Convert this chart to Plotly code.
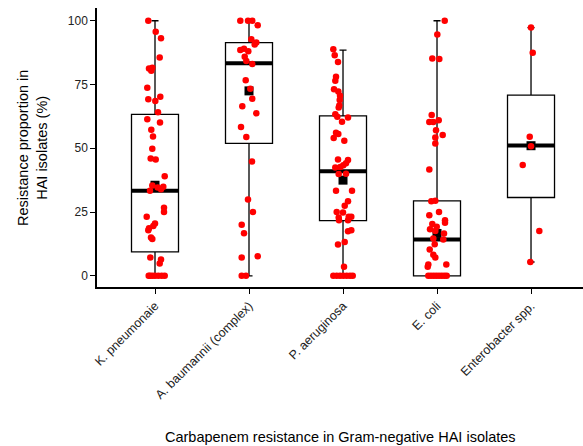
import plotly.graph_objects as go

categories = ["K. pneumonaie", "A. baumannii (complex)", "P. aeruginosa", "E. coli", "Enterobacter spp."]

# box statistics
q1 = [9.4, 51.9, 21.6, 0.0, 30.7]
median = [33.3, 83.3, 41.0, 14.2, 51.1]
q3 = [63.3, 91.4, 62.7, 29.4, 70.8]
lower = [0.0, 0.0, 0.0, 0.0, 5.4]
upper = [100.0, 100.0, 88.5, 100.0, 97.3]
means = [35.5, 72.5, 37.5, 16.6, 51.0]

# individual isolates (value, jitter offset in category units)
k_vals = [100, 95.7, 93.1, 85.6, 81.3, 81.6, 80.4, 73.7, 70.2, 69.2, 68.5, 64.1, 61.4, 60.1, 57.3,
          54.6, 49.8, 46, 45.6, 39, 35.4, 34.6, 33.9, 34.9, 33.3, 26.7, 25, 23.1, 20.5, 19.5, 18.6,
          17.9, 15, 14.4, 7.2, 6.4, 4.8, 0, 0, 0, 0, 0, 0, 0]
k_jit = [-6.7, 0.7, 6, 4.7, -6, -2.7, -3.7, -7.7, 5.3, -6.7, 0.3, 3, -7.7, 5, -3.7,
         -2, -2.7, -4.3, 0.7, 9.7, -2.7, 2.7, 6, 8.3, -5, 9, 9, -8.3, 0, -1.7, -6,
         -6.7, -4, -2.7, -4.7, 6, 4.7, -5, -2.7, 0, 3.3, 6.7, 9.7, -6.3]
a_vals = [100, 100, 100, 98.2, 92.7, 91.5, 90.7, 88.5, 89, 88, 85.9, 84.2, 83, 76.7, 73.3, 69.4,
          66.5, 63.7, 58.3, 54.4, 44.8, 29.9, 25, 20, 16.7, 7.2, 7.7, 0, 0]
a_jit = [-8.7, -1, 3.3, 8.7, 2.3, 7.3, 5.7, -8.7, -5, -0.7, -4.3, -2.7, 3.3, -3.3, 1.3, 3.3,
         -6.7, 7.3, -8, -2.7, 3, -1, 4, -7.3, -5, -7.3, 8.7, -7.3, -3]
p_vals = [88.8, 86.5, 83.8, 78, 76.5, 73.1, 72.3, 70.6, 68.9, 66.8, 66, 63.3, 62.4, 62.1, 60.4,
          56.1, 55.6, 54, 52.9, 45.6, 45.4, 44.1, 43.3, 42.5, 42.7, 39.9, 40, 33.3, 33.3, 29.2,
          27.5, 25, 24.8, 21.8, 22.9, 23.1, 23.1, 21.8, 17.9, 17.5, 13.2, 12.3, 3.5,
          0, 0, 0, 0, 0, 0, 0]
p_jit = [-9.7, -8.3, -5, -7, -7.7, -9, -4.7, -3, -3.3, -3.7, -4.3, -7.7, -5.7, 5, -1,
         -7, -4.7, -9.3, 1.3, -5, 5, 3, 0.3, -7.7, -2.7, -4.3, 3, -7, 9, 5,
         1.7, -6.3, 0, -4, -4.3, 5.7, 8.3, 5, 8.3, 5, 1.7, -5, 1,
         -9.7, -6.3, -3, 0.3, 3.7, 7, 9.7]
e_vals = [100, 94.6, 85.2, 85, 63, 60.3, 60.3, 61, 57.1, 55.2, 54.2, 51.9, 41.7, 29.2, 29.4, 25,
          23.7, 21.8, 20.8, 20.3, 18.2, 19.2, 17.6, 16.6, 14.6, 14.2, 12.4, 10.3, 8.2, 7.2, 4.4,
          3.5, 4.4, 0, 0, 0, 0, 0, 0, 0, 0]
e_jit = [7.7, 0.3, -4.7, 2.3, -5.3, -7.7, -3.7, 1.7, -1, 5.7, -1.7, -1.7, -7.7, -5.7, -1.7, 2,
         -7.7, 8, 8, -4.7, -7, -0.3, -1.7, 7, -3.7, 6.3, -2.3, -7.3, -3.7, -1.7, -8.7,
         -9.3, 9.3, -8.7, -6, -3.3, -0.7, 2, 4.7, 7.3, 9.7]
n_vals = [97.4, 87.5, 54.5, 50.8, 43.4, 17.6, 5.4]
n_jit = [0, 1.7, -1.3, 0, -8.3, 8.3, -0.7]

point_vals = [k_vals, a_vals, p_vals, e_vals, n_vals]
point_jit = [k_jit, a_jit, p_jit, e_jit, n_jit]

PX_PER_CAT = 94.0
HALF = 0.25

fig = go.Figure()

for i in range(len(categories)):
    fig.add_trace(go.Box(
        x=[i], q1=[q1[i]], median=[median[i]], q3=[q3[i]],
        lowerfence=[lower[i]], upperfence=[upper[i]],
        width=0.5, whiskerwidth=0.15,
        fillcolor="white", line=dict(color="black", width=1.3),
        boxpoints=False, showlegend=False, hoverinfo="skip",
    ))

# thick median bars
mx, my = [], []
for i in range(len(categories)):
    mx += [i - HALF, i + HALF, None]
    my += [median[i], median[i], None]
fig.add_trace(go.Scatter(x=mx, y=my, mode="lines", line=dict(color="black", width=4),
                         showlegend=False, hoverinfo="skip"))

# means
fig.add_trace(go.Scatter(x=list(range(len(categories))), y=means, mode="markers",
                         marker=dict(symbol="square", color="black", size=9),
                         showlegend=False))

# jittered points
for i in range(len(categories)):
    xs = [i + j / PX_PER_CAT for j in point_jit[i]]
    fig.add_trace(go.Scatter(x=xs, y=point_vals[i], mode="markers",
                             marker=dict(color="#FF0000", size=6.5),
                             showlegend=False))

fig.update_layout(
    width=583, height=446,
    margin=dict(l=97, r=0, t=8, b=159),
    paper_bgcolor="white", plot_bgcolor="white",
    font=dict(family="Liberation Sans, Arial, sans-serif", color="black"),
)
fig.update_xaxes(
    range=[-0.617, 4.553], tickmode="array", tickvals=list(range(len(categories))),
    ticktext=categories, tickangle=-45, tickfont=dict(size=12.5, color="#222"),
    ticks="outside", ticklen=5, tickcolor="black", showline=True, linecolor="black",
    linewidth=1.5, showgrid=False, zeroline=False,
)
fig.update_yaxes(
    range=[-4.4, 105], tickvals=[0, 25, 50, 75, 100], tickfont=dict(size=12, color="#222"),
    ticks="outside", ticklen=5, tickcolor="black", showline=True, linecolor="black",
    linewidth=1.5, showgrid=False, zeroline=False,
)
fig.add_annotation(text="Carbapenem resistance in Gram-negative HAI isolates",
                   xref="paper", yref="paper", x=0.5, y=-150 / 279, xanchor="center",
                   yanchor="middle", showarrow=False, font=dict(size=14.5, color="black"))
fig.add_annotation(text="Resistance proportion in<br>HAI isolates (%)",
                   xref="paper", yref="paper", x=-65 / 486, y=(287 - 148) / 279,
                   xanchor="center", yanchor="middle", textangle=-90, showarrow=False,
                   font=dict(size=14.5, color="black"))

fig.write_html("out.html", config={"displayModeBar": False},
               post_script="document.body.style.margin='0px';document.body.style.overflow='hidden';")
